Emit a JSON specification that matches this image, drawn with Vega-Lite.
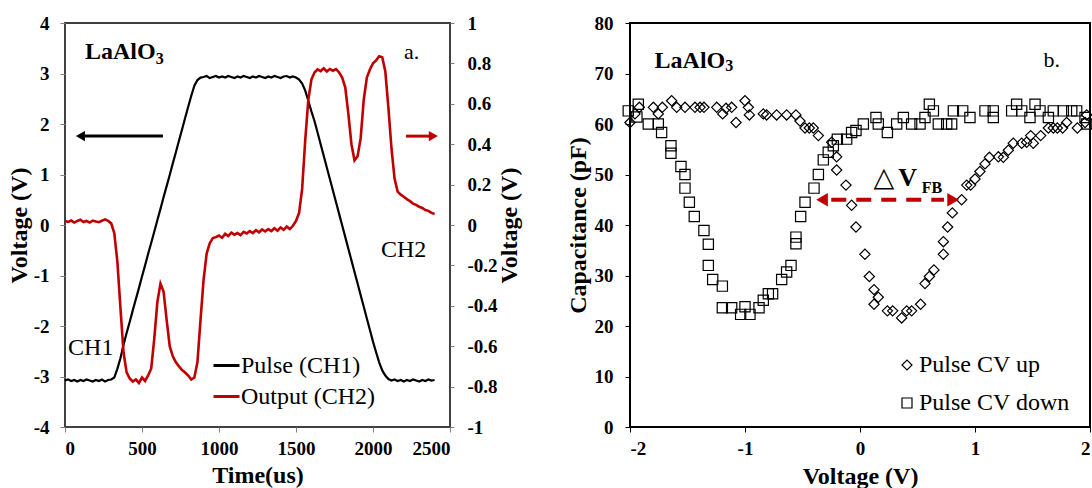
{
  "$schema": "https://vega.github.io/schema/vega-lite/v6.json",
  "autosize": {"type": "none"},
  "padding": {"left": 65, "top": 23, "right": 1027, "bottom": 465},
  "background": "white",
  "spacing": 180,
  "bounds": "flush",
  "config": {
    "font": "Liberation Serif",
    "locale": {"number": {"decimal": ".", "thousands": ",", "grouping": [3], "currency": ["$", ""], "minus": "-"}},
    "axis": {
      "labelFont": "Liberation Serif", "labelFontWeight": "bold", "labelFontSize": 19, "labelColor": "black",
      "titleFont": "Liberation Serif", "titleFontWeight": "bold", "titleFontSize": 24, "titleColor": "black",
      "grid": false, "domain": false, "tickSize": 5, "labelPadding": 7
    },
    "legend": {"labelFont": "Liberation Serif", "labelFontSize": 24, "labelColor": "black", "padding": 0, "title": null}
  },
  "hconcat": [
    {
      "width": 385, "height": 404,
      "view": {"stroke": "#404040", "strokeWidth": 2},
      "data": {"values": [
        {"t":0,"p":-3.08,"o":0.020},{"t":20,"p":-3.06,"o":0.015},{"t":40,"p":-3.09,"o":0.022},{"t":60,"p":-3.07,"o":0.012},
        {"t":80,"p":-3.10,"o":0.020},{"t":100,"p":-3.07,"o":0.026},{"t":120,"p":-3.09,"o":0.015},{"t":140,"p":-3.06,"o":0.020},
        {"t":160,"p":-3.08,"o":0.012},{"t":180,"p":-3.10,"o":0.022},{"t":200,"p":-3.07,"o":0.017},{"t":220,"p":-3.09,"o":0.014},
        {"t":240,"p":-3.06,"o":0.021},{"t":260,"p":-3.10,"o":0.028},{"t":280,"p":-3.07,"o":0.020},{"t":300,"p":-3.06,"o":0.008},
        {"t":320,"p":-3.02,"o":-0.040},{"t":340,"p":-2.85,"o":-0.180},{"t":360,"p":-2.64,"o":-0.410},{"t":380,"p":-2.37,"o":-0.630},
        {"t":400,"p":-2.14,"o":-0.730},{"t":420,"p":-1.92,"o":-0.760},{"t":440,"p":-1.69,"o":-0.775},{"t":460,"p":-1.47,"o":-0.765},
        {"t":480,"p":-1.25,"o":-0.782},{"t":500,"p":-1.02,"o":-0.755},{"t":520,"p":-0.80,"o":-0.772},{"t":540,"p":-0.57,"o":-0.745},
        {"t":560,"p":-0.35,"o":-0.710},{"t":580,"p":-0.13,"o":-0.560},{"t":600,"p":0.10,"o":-0.380},{"t":620,"p":0.32,"o":-0.290},
        {"t":640,"p":0.55,"o":-0.330},{"t":660,"p":0.77,"o":-0.470},{"t":680,"p":0.99,"o":-0.600},{"t":700,"p":1.22,"o":-0.650},
        {"t":720,"p":1.44,"o":-0.680},{"t":740,"p":1.67,"o":-0.700},{"t":760,"p":1.89,"o":-0.718},{"t":780,"p":2.12,"o":-0.730},
        {"t":800,"p":2.34,"o":-0.745},{"t":820,"p":2.56,"o":-0.765},{"t":840,"p":2.76,"o":-0.755},{"t":860,"p":2.87,"o":-0.680},
        {"t":880,"p":2.92,"o":-0.470},{"t":900,"p":2.93,"o":-0.270},{"t":920,"p":2.95,"o":-0.140},{"t":940,"p":2.91,"o":-0.090},
        {"t":960,"p":2.93,"o":-0.065},{"t":980,"p":2.95,"o":-0.060},{"t":1000,"p":2.92,"o":-0.052},{"t":1020,"p":2.94,"o":-0.063},
        {"t":1040,"p":2.92,"o":-0.044},{"t":1060,"p":2.95,"o":-0.055},{"t":1080,"p":2.93,"o":-0.038},{"t":1100,"p":2.91,"o":-0.048},
        {"t":1120,"p":2.94,"o":-0.040},{"t":1140,"p":2.92,"o":-0.050},{"t":1160,"p":2.95,"o":-0.034},{"t":1180,"p":2.93,"o":-0.042},
        {"t":1200,"p":2.91,"o":-0.030},{"t":1220,"p":2.94,"o":-0.040},{"t":1240,"p":2.92,"o":-0.026},{"t":1260,"p":2.95,"o":-0.036},
        {"t":1280,"p":2.93,"o":-0.022},{"t":1300,"p":2.91,"o":-0.032},{"t":1320,"p":2.94,"o":-0.020},{"t":1340,"p":2.92,"o":-0.030},
        {"t":1360,"p":2.95,"o":-0.016},{"t":1380,"p":2.93,"o":-0.028},{"t":1400,"p":2.91,"o":-0.012},{"t":1420,"p":2.94,"o":-0.024},
        {"t":1440,"p":2.95,"o":-0.008},{"t":1460,"p":2.92,"o":-0.020},{"t":1480,"p":2.94,"o":-0.004},{"t":1500,"p":2.92,"o":0.020},
        {"t":1520,"p":2.88,"o":0.060},{"t":1540,"p":2.80,"o":0.180},{"t":1560,"p":2.66,"o":0.420},{"t":1580,"p":2.46,"o":0.620},
        {"t":1600,"p":2.25,"o":0.720},{"t":1620,"p":2.06,"o":0.755},{"t":1640,"p":1.83,"o":0.770},{"t":1660,"p":1.60,"o":0.762},
        {"t":1680,"p":1.37,"o":0.776},{"t":1700,"p":1.14,"o":0.760},{"t":1720,"p":0.91,"o":0.772},{"t":1740,"p":0.68,"o":0.764},
        {"t":1760,"p":0.45,"o":0.772},{"t":1780,"p":0.22,"o":0.755},{"t":1800,"p":-0.01,"o":0.730},{"t":1820,"p":-0.24,"o":0.680},
        {"t":1840,"p":-0.47,"o":0.550},{"t":1860,"p":-0.70,"o":0.400},{"t":1880,"p":-0.93,"o":0.320},{"t":1900,"p":-1.16,"o":0.340},
        {"t":1920,"p":-1.39,"o":0.430},{"t":1940,"p":-1.62,"o":0.620},{"t":1960,"p":-1.85,"o":0.730},{"t":1980,"p":-2.08,"o":0.770},
        {"t":2000,"p":-2.31,"o":0.800},{"t":2020,"p":-2.52,"o":0.815},{"t":2040,"p":-2.72,"o":0.835},{"t":2060,"p":-2.88,"o":0.830},
        {"t":2080,"p":-2.98,"o":0.760},{"t":2100,"p":-3.05,"o":0.580},{"t":2120,"p":-3.08,"o":0.380},{"t":2140,"p":-3.06,"o":0.230},
        {"t":2160,"p":-3.09,"o":0.165},{"t":2180,"p":-3.07,"o":0.150},{"t":2200,"p":-3.10,"o":0.140},{"t":2220,"p":-3.07,"o":0.128},
        {"t":2240,"p":-3.09,"o":0.118},{"t":2260,"p":-3.06,"o":0.106},{"t":2280,"p":-3.08,"o":0.100},{"t":2300,"p":-3.10,"o":0.090},
        {"t":2320,"p":-3.07,"o":0.084},{"t":2340,"p":-3.09,"o":0.074},{"t":2360,"p":-3.06,"o":0.070},{"t":2380,"p":-3.08,"o":0.060},
        {"t":2400,"p":-3.07,"o":0.055}
      ]},
      "layer": [
        {
          "layer": [
            {
              "mark": {"type": "line", "strokeWidth": 2.2, "interpolate": "linear"},
              "encoding": {
                "x": {"field": "t", "type": "quantitative", "scale": {"domain": [0, 2500], "nice": false},
                      "axis": {"values": [0, 500, 1000, 1500, 2000, 2500], "format": "d", "title": "Time(us)", "tickColor": "#808080", "titlePadding": 5}},
                "y": {"field": "p", "type": "quantitative", "scale": {"domain": [-4, 4], "nice": false},
                      "axis": {"values": [-4, -3, -2, -1, 0, 1, 2, 3, 4], "format": "d", "title": "Voltage (V)", "tickColor": "#808080", "labelPadding": 11, "titlePadding": 2}},
                "color": {"datum": "Pulse (CH1)", "type": "nominal",
                          "scale": {"domain": ["Pulse (CH1)", "Output (CH2)"], "range": ["black", "#C00000"]},
                          "legend": {"orient": "none", "legendX": 147, "legendY": 328, "symbolType": "stroke", "symbolSize": 676, "symbolStrokeWidth": 3, "labelOffset": 0, "rowPadding": 4}}
              }
            },
            {
              "data": {"values": [{"t": 130, "y": 3.295, "text": "LaAlO"}]},
              "mark": {"type": "text", "font": "Liberation Serif", "fontSize": 24, "fontWeight": "bold", "align": "left", "baseline": "alphabetic", "color": "black"},
              "encoding": {"x": {"field": "t", "type": "quantitative", "scale": {"domain": [0, 2500]}}, "y": {"field": "y", "type": "quantitative", "scale": {"domain": [-4, 4]}}, "text": {"field": "text"}}
            },
            {
              "data": {"values": [{"t": 589, "y": 3.196, "text": "3"}]},
              "mark": {"type": "text", "font": "Liberation Serif", "fontSize": 16, "fontWeight": "bold", "align": "left", "baseline": "alphabetic", "color": "black"},
              "encoding": {"x": {"field": "t", "type": "quantitative", "scale": {"domain": [0, 2500]}}, "y": {"field": "y", "type": "quantitative", "scale": {"domain": [-4, 4]}}, "text": {"field": "text"}}
            },
            {
              "data": {"values": [{"t": 2201, "y": 3.295, "text": "a."}]},
              "mark": {"type": "text", "font": "Liberation Serif", "fontSize": 22, "align": "left", "baseline": "alphabetic", "color": "black"},
              "encoding": {"x": {"field": "t", "type": "quantitative", "scale": {"domain": [0, 2500]}}, "y": {"field": "y", "type": "quantitative", "scale": {"domain": [-4, 4]}}, "text": {"field": "text"}}
            },
            {
              "data": {"values": [{"t": 20, "y": -2.58, "text": "CH1"}, {"t": 2052, "y": -0.63, "text": "CH2"}]},
              "mark": {"type": "text", "font": "Liberation Serif", "fontSize": 24, "align": "left", "baseline": "alphabetic", "color": "black"},
              "encoding": {"x": {"field": "t", "type": "quantitative", "scale": {"domain": [0, 2500]}}, "y": {"field": "y", "type": "quantitative", "scale": {"domain": [-4, 4]}}, "text": {"field": "text"}}
            },
            {
              "data": {"values": [{"t": 130, "t2": 636, "y": 1.76}]},
              "mark": {"type": "rule", "strokeWidth": 3, "color": "black"},
              "encoding": {"x": {"field": "t", "type": "quantitative", "scale": {"domain": [0, 2500]}}, "x2": {"field": "t2"}, "y": {"field": "y", "type": "quantitative", "scale": {"domain": [-4, 4]}}}
            },
            {
              "data": {"values": [{"t": 2214, "t2": 2373, "y": 1.76}]},
              "mark": {"type": "rule", "strokeWidth": 3, "color": "#C00000"},
              "encoding": {"x": {"field": "t", "type": "quantitative", "scale": {"domain": [0, 2500]}}, "x2": {"field": "t2"}, "y": {"field": "y", "type": "quantitative", "scale": {"domain": [-4, 4]}}}
            },
            {
              "data": {"values": [{"t": 100, "y": 1.76}]},
              "mark": {"type": "point", "shape": "triangle-left", "filled": true, "size": 110, "color": "black", "opacity": 1},
              "encoding": {"x": {"field": "t", "type": "quantitative", "scale": {"domain": [0, 2500]}}, "y": {"field": "y", "type": "quantitative", "scale": {"domain": [-4, 4]}}}
            },
            {
              "data": {"values": [{"t": 2392, "y": 1.76}]},
              "mark": {"type": "point", "shape": "triangle-right", "filled": true, "size": 110, "color": "#C00000", "opacity": 1},
              "encoding": {"x": {"field": "t", "type": "quantitative", "scale": {"domain": [0, 2500]}}, "y": {"field": "y", "type": "quantitative", "scale": {"domain": [-4, 4]}}}
            }
          ]
        },
        {
          "mark": {"type": "line", "strokeWidth": 2.6, "interpolate": "linear"},
          "encoding": {
            "x": {"field": "t", "type": "quantitative", "scale": {"domain": [0, 2500]}},
            "y": {"field": "o", "type": "quantitative", "scale": {"domain": [-1, 1], "nice": false},
                  "axis": {"orient": "right", "values": [-1, -0.8, -0.6, -0.4, -0.2, 0, 0.2, 0.4, 0.6, 0.8, 1], "format": ".1~f", "title": "Voltage (V)", "tickColor": "#808080", "tickSize": 4, "labelPadding": 13, "titleAngle": -90, "titlePadding": 24}},
            "color": {"datum": "Output (CH2)", "type": "nominal"}
          }
        }
      ],
      "resolve": {"scale": {"y": "independent"}}
    },
    {
      "width": 460, "height": 404,
      "view": {"stroke": "black", "strokeWidth": 2},
      "layer": [
        {
          "data": {"values": [
            {"v":-2.0,"c":60.3,"s":"Pulse CV up"},{"v":-1.957,"c":62.0,"s":"Pulse CV up"},{"v":-1.919,"c":63.3,"s":"Pulse CV up"},
            {"v":-1.797,"c":63.3,"s":"Pulse CV up"},{"v":-1.754,"c":62.0,"s":"Pulse CV up"},{"v":-1.719,"c":63.3,"s":"Pulse CV up"},
            {"v":-1.638,"c":64.6,"s":"Pulse CV up"},{"v":-1.594,"c":63.3,"s":"Pulse CV up"},{"v":-1.522,"c":63.3,"s":"Pulse CV up"},
            {"v":-1.435,"c":63.3,"s":"Pulse CV up"},{"v":-1.391,"c":63.3,"s":"Pulse CV up"},{"v":-1.357,"c":63.3,"s":"Pulse CV up"},
            {"v":-1.246,"c":63.3,"s":"Pulse CV up"},{"v":-1.194,"c":62.0,"s":"Pulse CV up"},{"v":-1.165,"c":63.1,"s":"Pulse CV up"},
            {"v":-1.116,"c":63.3,"s":"Pulse CV up"},{"v":-1.078,"c":60.3,"s":"Pulse CV up"},{"v":-1.0,"c":64.6,"s":"Pulse CV up"},
            {"v":-0.971,"c":63.3,"s":"Pulse CV up"},{"v":-0.962,"c":61.8,"s":"Pulse CV up"},{"v":-0.841,"c":62.0,"s":"Pulse CV up"},
            {"v":-0.812,"c":61.8,"s":"Pulse CV up"},{"v":-0.725,"c":61.8,"s":"Pulse CV up"},{"v":-0.638,"c":61.8,"s":"Pulse CV up"},
            {"v":-0.557,"c":61.8,"s":"Pulse CV up"},{"v":-0.522,"c":60.6,"s":"Pulse CV up"},{"v":-0.478,"c":59.2,"s":"Pulse CV up"},
            {"v":-0.441,"c":59.2,"s":"Pulse CV up"},{"v":-0.406,"c":59.2,"s":"Pulse CV up"},{"v":-0.362,"c":57.7,"s":"Pulse CV up"},
            {"v":-0.246,"c":56.4,"s":"Pulse CV up"},{"v":-0.203,"c":53.5,"s":"Pulse CV up"},{"v":-0.203,"c":50.9,"s":"Pulse CV up"},
            {"v":-0.122,"c":47.9,"s":"Pulse CV up"},{"v":-0.073,"c":43.9,"s":"Pulse CV up"},{"v":-0.035,"c":39.6,"s":"Pulse CV up"},
            {"v":0.043,"c":34.2,"s":"Pulse CV up"},{"v":0.081,"c":29.8,"s":"Pulse CV up"},{"v":0.122,"c":27.2,"s":"Pulse CV up"},
            {"v":0.159,"c":25.7,"s":"Pulse CV up"},{"v":0.122,"c":24.3,"s":"Pulse CV up"},{"v":0.238,"c":23.0,"s":"Pulse CV up"},
            {"v":0.284,"c":23.0,"s":"Pulse CV up"},{"v":0.362,"c":21.6,"s":"Pulse CV up"},{"v":0.406,"c":23.0,"s":"Pulse CV up"},
            {"v":0.449,"c":23.0,"s":"Pulse CV up"},{"v":0.527,"c":24.3,"s":"Pulse CV up"},{"v":0.565,"c":28.4,"s":"Pulse CV up"},
            {"v":0.603,"c":29.8,"s":"Pulse CV up"},{"v":0.643,"c":31.1,"s":"Pulse CV up"},{"v":0.725,"c":34.2,"s":"Pulse CV up"},
            {"v":0.725,"c":36.7,"s":"Pulse CV up"},{"v":0.762,"c":39.6,"s":"Pulse CV up"},{"v":0.803,"c":42.4,"s":"Pulse CV up"},
            {"v":0.884,"c":45.0,"s":"Pulse CV up"},{"v":0.928,"c":47.9,"s":"Pulse CV up"},{"v":0.962,"c":47.9,"s":"Pulse CV up"},
            {"v":1.0,"c":49.1,"s":"Pulse CV up"},{"v":1.043,"c":50.6,"s":"Pulse CV up"},{"v":1.087,"c":52.1,"s":"Pulse CV up"},
            {"v":1.125,"c":53.4,"s":"Pulse CV up"},{"v":1.203,"c":53.5,"s":"Pulse CV up"},{"v":1.246,"c":53.4,"s":"Pulse CV up"},
            {"v":1.290,"c":54.8,"s":"Pulse CV up"},{"v":1.333,"c":56.2,"s":"Pulse CV up"},{"v":1.406,"c":56.2,"s":"Pulse CV up"},
            {"v":1.449,"c":56.4,"s":"Pulse CV up"},{"v":1.484,"c":57.7,"s":"Pulse CV up"},{"v":1.507,"c":56.2,"s":"Pulse CV up"},
            {"v":1.571,"c":57.7,"s":"Pulse CV up"},{"v":1.638,"c":59.2,"s":"Pulse CV up"},{"v":1.681,"c":59.2,"s":"Pulse CV up"},
            {"v":1.716,"c":59.2,"s":"Pulse CV up"},{"v":1.762,"c":59.2,"s":"Pulse CV up"},{"v":1.797,"c":60.3,"s":"Pulse CV up"},
            {"v":1.890,"c":59.2,"s":"Pulse CV up"},{"v":1.957,"c":60.3,"s":"Pulse CV up"},{"v":1.971,"c":61.8,"s":"Pulse CV up"},
            {"v":-2.015,"c":62.6,"s":"Pulse CV down"},{"v":-1.928,"c":63.9,"s":"Pulse CV down"},{"v":-1.94,"c":61.4,"s":"Pulse CV down"},
            {"v":-1.841,"c":60.0,"s":"Pulse CV down"},{"v":-1.754,"c":60.0,"s":"Pulse CV down"},{"v":-1.725,"c":58.3,"s":"Pulse CV down"},
            {"v":-1.644,"c":55.7,"s":"Pulse CV down"},{"v":-1.644,"c":54.2,"s":"Pulse CV down"},{"v":-1.557,"c":51.6,"s":"Pulse CV down"},
            {"v":-1.522,"c":50.0,"s":"Pulse CV down"},{"v":-1.522,"c":47.3,"s":"Pulse CV down"},{"v":-1.484,"c":44.5,"s":"Pulse CV down"},
            {"v":-1.441,"c":41.7,"s":"Pulse CV down"},{"v":-1.357,"c":38.9,"s":"Pulse CV down"},{"v":-1.319,"c":36.2,"s":"Pulse CV down"},
            {"v":-1.319,"c":32.0,"s":"Pulse CV down"},{"v":-1.281,"c":29.2,"s":"Pulse CV down"},{"v":-1.197,"c":27.9,"s":"Pulse CV down"},
            {"v":-1.197,"c":23.6,"s":"Pulse CV down"},{"v":-1.116,"c":23.6,"s":"Pulse CV down"},{"v":-1.038,"c":22.3,"s":"Pulse CV down"},
            {"v":-1.0,"c":23.8,"s":"Pulse CV down"},{"v":-0.957,"c":22.3,"s":"Pulse CV down"},{"v":-0.878,"c":23.6,"s":"Pulse CV down"},
            {"v":-0.841,"c":25.1,"s":"Pulse CV down"},{"v":-0.797,"c":26.4,"s":"Pulse CV down"},{"v":-0.760,"c":26.4,"s":"Pulse CV down"},
            {"v":-0.681,"c":29.2,"s":"Pulse CV down"},{"v":-0.638,"c":30.7,"s":"Pulse CV down"},{"v":-0.600,"c":32.0,"s":"Pulse CV down"},
            {"v":-0.557,"c":37.6,"s":"Pulse CV down"},{"v":-0.557,"c":36.3,"s":"Pulse CV down"},{"v":-0.516,"c":41.7,"s":"Pulse CV down"},
            {"v":-0.478,"c":44.5,"s":"Pulse CV down"},{"v":-0.400,"c":47.3,"s":"Pulse CV down"},{"v":-0.362,"c":50.0,"s":"Pulse CV down"},
            {"v":-0.319,"c":52.9,"s":"Pulse CV down"},{"v":-0.276,"c":54.4,"s":"Pulse CV down"},{"v":-0.232,"c":55.7,"s":"Pulse CV down"},
            {"v":-0.197,"c":57.0,"s":"Pulse CV down"},{"v":-0.116,"c":57.0,"s":"Pulse CV down"},{"v":-0.073,"c":58.3,"s":"Pulse CV down"},
            {"v":-0.035,"c":58.7,"s":"Pulse CV down"},{"v":0.029,"c":60.0,"s":"Pulse CV down"},{"v":0.139,"c":61.3,"s":"Pulse CV down"},
            {"v":0.159,"c":60.0,"s":"Pulse CV down"},{"v":0.238,"c":58.3,"s":"Pulse CV down"},{"v":0.319,"c":60.0,"s":"Pulse CV down"},
            {"v":0.377,"c":61.3,"s":"Pulse CV down"},{"v":0.449,"c":60.0,"s":"Pulse CV down"},{"v":0.522,"c":60.0,"s":"Pulse CV down"},
            {"v":0.565,"c":61.3,"s":"Pulse CV down"},{"v":0.603,"c":63.9,"s":"Pulse CV down"},{"v":0.638,"c":62.6,"s":"Pulse CV down"},
            {"v":0.681,"c":60.0,"s":"Pulse CV down"},{"v":0.754,"c":60.0,"s":"Pulse CV down"},{"v":0.797,"c":60.0,"s":"Pulse CV down"},
            {"v":0.812,"c":62.6,"s":"Pulse CV down"},{"v":0.893,"c":62.6,"s":"Pulse CV down"},{"v":0.956,"c":61.3,"s":"Pulse CV down"},
            {"v":1.087,"c":62.6,"s":"Pulse CV down"},{"v":1.159,"c":62.6,"s":"Pulse CV down"},{"v":1.159,"c":61.3,"s":"Pulse CV down"},
            {"v":1.319,"c":62.6,"s":"Pulse CV down"},{"v":1.362,"c":63.9,"s":"Pulse CV down"},{"v":1.406,"c":62.6,"s":"Pulse CV down"},
            {"v":1.478,"c":61.3,"s":"Pulse CV down"},{"v":1.522,"c":63.9,"s":"Pulse CV down"},{"v":1.565,"c":62.6,"s":"Pulse CV down"},
            {"v":1.638,"c":61.3,"s":"Pulse CV down"},{"v":1.681,"c":62.6,"s":"Pulse CV down"},{"v":1.768,"c":62.6,"s":"Pulse CV down"},
            {"v":1.841,"c":62.6,"s":"Pulse CV down"},{"v":1.884,"c":62.6,"s":"Pulse CV down"},{"v":1.957,"c":61.3,"s":"Pulse CV down"},
            {"v":1.971,"c":60.0,"s":"Pulse CV down"}
          ]},
          "mark": {"type": "point", "filled": false, "stroke": "black", "strokeWidth": 1.2, "size": 105, "opacity": 1},
          "encoding": {
            "x": {"field": "v", "type": "quantitative", "scale": {"domain": [-2, 2], "nice": false},
                  "axis": {"values": [-2, -1, 0, 1, 2], "format": "d", "title": "Voltage (V)", "tickColor": "black", "titlePadding": 6}},
            "y": {"field": "c", "type": "quantitative", "scale": {"domain": [0, 80], "nice": false},
                  "axis": {"values": [0, 10, 20, 30, 40, 50, 60, 70, 80], "format": "d", "title": "Capacitance (pF)", "tickColor": "black", "labelPadding": 12, "titlePadding": 4}},
            "shape": {"field": "s", "type": "nominal",
                      "scale": {"domain": ["Pulse CV up", "Pulse CV down"], "range": ["diamond", "square"]},
                      "legend": {"orient": "none", "legendX": 830, "legendY": 330, "symbolSize": 100, "symbolStrokeColor": "black", "symbolFillColor": "white", "symbolStrokeWidth": 1.2, "labelOffset": 0, "rowPadding": 14}}
          }
        },
        {
          "data": {"values": [{"v": -1.786, "c": 71.1, "text": "LaAlO"}]},
          "mark": {"type": "text", "font": "Liberation Serif", "fontSize": 24, "fontWeight": "bold", "align": "left", "baseline": "alphabetic", "color": "black"},
          "encoding": {"x": {"field": "v", "type": "quantitative"}, "y": {"field": "c", "type": "quantitative"}, "text": {"field": "text"}}
        },
        {
          "data": {"values": [{"v": -1.172, "c": 70.4, "text": "3"}]},
          "mark": {"type": "text", "font": "Liberation Serif", "fontSize": 16, "fontWeight": "bold", "align": "left", "baseline": "alphabetic", "color": "black"},
          "encoding": {"x": {"field": "v", "type": "quantitative"}, "y": {"field": "c", "type": "quantitative"}, "text": {"field": "text"}}
        },
        {
          "data": {"values": [{"v": 1.596, "c": 71.25, "text": "b."}]},
          "mark": {"type": "text", "font": "Liberation Serif", "fontSize": 22, "align": "left", "baseline": "alphabetic", "color": "black"},
          "encoding": {"x": {"field": "v", "type": "quantitative"}, "y": {"field": "c", "type": "quantitative"}, "text": {"field": "text"}}
        },
        {
          "data": {"values": [{"v": 0.117, "c": 47.74, "text": "△"}]},
          "mark": {"type": "text", "font": "DejaVu Sans", "fontSize": 27, "align": "left", "baseline": "alphabetic", "color": "black"},
          "encoding": {"x": {"field": "v", "type": "quantitative"}, "y": {"field": "c", "type": "quantitative"}, "text": {"field": "text"}}
        },
        {
          "data": {"values": [{"v": 0.333, "c": 47.74, "text": "V"}]},
          "mark": {"type": "text", "font": "Liberation Serif", "fontSize": 26, "fontWeight": "bold", "align": "left", "baseline": "alphabetic", "color": "black"},
          "encoding": {"x": {"field": "v", "type": "quantitative"}, "y": {"field": "c", "type": "quantitative"}, "text": {"field": "text"}}
        },
        {
          "data": {"values": [{"v": 0.537, "c": 46.42, "text": "FB"}]},
          "mark": {"type": "text", "font": "Liberation Serif", "fontSize": 16, "fontWeight": "bold", "align": "left", "baseline": "alphabetic", "color": "black"},
          "encoding": {"x": {"field": "v", "type": "quantitative"}, "y": {"field": "c", "type": "quantitative"}, "text": {"field": "text"}}
        },
        {
          "data": {"values": [{"v": -0.25, "v2": 0.73, "c": 45.0}]},
          "mark": {"type": "rule", "strokeWidth": 4, "color": "#C00000", "strokeDash": [15, 10]},
          "encoding": {"x": {"field": "v", "type": "quantitative"}, "x2": {"field": "v2"}, "y": {"field": "c", "type": "quantitative"}}
        },
        {
          "data": {"values": [{"v": -0.33, "c": 45.0}]},
          "mark": {"type": "point", "shape": "triangle-left", "filled": true, "size": 180, "color": "#C00000", "opacity": 1},
          "encoding": {"x": {"field": "v", "type": "quantitative"}, "y": {"field": "c", "type": "quantitative"}}
        },
        {
          "data": {"values": [{"v": 0.81, "c": 45.0}]},
          "mark": {"type": "point", "shape": "triangle-right", "filled": true, "size": 180, "color": "#C00000", "opacity": 1},
          "encoding": {"x": {"field": "v", "type": "quantitative"}, "y": {"field": "c", "type": "quantitative"}}
        }
      ]
    }
  ]
}
